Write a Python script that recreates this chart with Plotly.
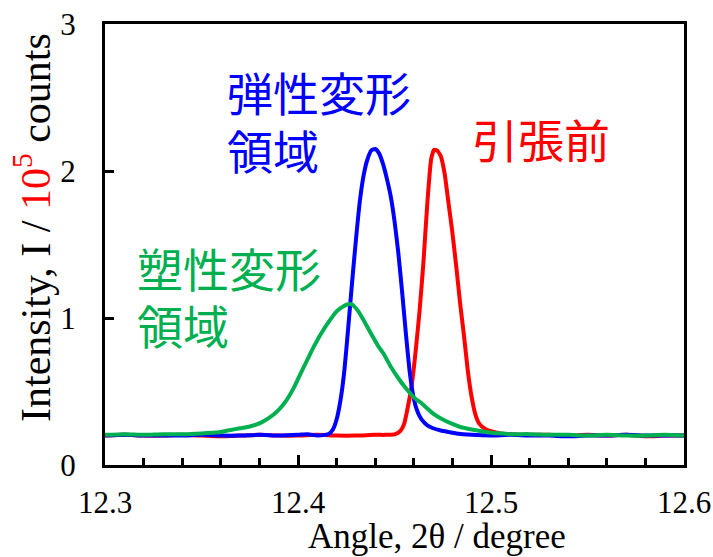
import plotly.graph_objects as go

# ---- data ----
red_x = [12.30, 12.31, 12.32, 12.33, 12.34, 12.35, 12.36, 12.37, 12.38, 12.39,
         12.40, 12.41, 12.42, 12.43, 12.44, 12.445, 12.450, 12.453, 12.455, 12.457,
         12.459, 12.461, 12.463, 12.465, 12.467, 12.469, 12.4705, 12.472, 12.474, 12.476,
         12.478, 12.480, 12.482, 12.484, 12.486, 12.488, 12.490, 12.492, 12.494, 12.497,
         12.500, 12.505, 12.51, 12.52, 12.53, 12.54, 12.55, 12.56, 12.57, 12.58, 12.59, 12.60]
red_y = [0.200, 0.205, 0.200, 0.200, 0.205, 0.200, 0.195, 0.200, 0.205, 0.200,
         0.200, 0.205, 0.200, 0.200, 0.205, 0.205, 0.208, 0.23, 0.28, 0.40,
         0.55, 0.78, 1.05, 1.38, 1.78, 2.08, 2.145, 2.14, 2.10, 1.98,
         1.78, 1.58, 1.35, 1.10, 0.88, 0.64, 0.46, 0.34, 0.28, 0.245,
         0.230, 0.215, 0.210, 0.205, 0.205, 0.200, 0.205, 0.200, 0.205, 0.195, 0.200, 0.200]

blue_x = [12.30, 12.31, 12.32, 12.33, 12.34, 12.35, 12.36, 12.37, 12.38, 12.39,
          12.40, 12.405, 12.410, 12.414, 12.416, 12.418, 12.420, 12.422, 12.424, 12.426,
          12.428, 12.430, 12.432, 12.434, 12.436, 12.438, 12.440, 12.442, 12.444, 12.446,
          12.448, 12.450, 12.452, 12.454, 12.456, 12.458, 12.460, 12.462, 12.464, 12.467,
          12.470, 12.474, 12.478, 12.482, 12.49, 12.50, 12.51, 12.52, 12.53, 12.54,
          12.55, 12.56, 12.57, 12.58, 12.59, 12.60]
blue_y = [0.200, 0.205, 0.200, 0.200, 0.200, 0.205, 0.200, 0.200, 0.205, 0.200,
          0.205, 0.210, 0.200, 0.205, 0.212, 0.24, 0.31, 0.44, 0.64, 0.93,
          1.24, 1.53, 1.79, 1.97, 2.08, 2.14, 2.15, 2.12, 2.05, 1.95,
          1.83, 1.66, 1.44, 1.17, 0.88, 0.62, 0.45, 0.36, 0.31, 0.27,
          0.25, 0.235, 0.225, 0.215, 0.205, 0.200, 0.205, 0.200, 0.200, 0.195,
          0.200, 0.200, 0.205, 0.200, 0.200, 0.200]

green_x = [12.30, 12.31, 12.32, 12.33, 12.34, 12.35, 12.356, 12.360, 12.365, 12.370,
           12.375, 12.380, 12.385, 12.390, 12.394, 12.398, 12.402, 12.405, 12.408, 12.412,
           12.416, 12.420, 12.424, 12.426, 12.428, 12.431, 12.434, 12.438, 12.442, 12.4442,
           12.448, 12.452, 12.4554, 12.460, 12.464, 12.470, 12.475, 12.480, 12.485, 12.4907,
           12.500, 12.505, 12.51, 12.52, 12.53, 12.54, 12.55, 12.56, 12.57, 12.58,
           12.59, 12.60]
green_y = [0.205, 0.210, 0.205, 0.210, 0.210, 0.215, 0.220, 0.225, 0.238, 0.250,
           0.262, 0.283, 0.320, 0.375, 0.440, 0.530, 0.640, 0.720, 0.800, 0.895,
           0.975, 1.045, 1.083, 1.094, 1.092, 1.050, 0.985, 0.890, 0.800, 0.760,
           0.670, 0.590, 0.530, 0.460, 0.420, 0.350, 0.310, 0.280, 0.255, 0.240,
           0.220, 0.215, 0.210, 0.210, 0.205, 0.205, 0.200, 0.205, 0.200, 0.200,
           0.205, 0.200]

x_ticks = [12.3, 12.4, 12.5, 12.6]
x_tick_labels = ["12.3", "12.4", "12.5", "12.6"]
y_ticks = [0, 1, 2, 3]
y_tick_labels = ["0", "1", "2", "3"]

RED = "#FF0000"
BLUE = "#0000FF"
GREEN = "#00B050"
SERIF = "Liberation Serif"
CJK = "Noto Sans CJK JP"

fig = go.Figure()
for xs, ys, c in [(red_x, red_y, RED), (blue_x, blue_y, BLUE), (green_x, green_y, GREEN)]:
    fig.add_trace(go.Scatter(x=xs, y=ys, mode="lines",
                             line=dict(color=c, width=4, shape="spline", smoothing=0.5),
                             showlegend=False, hoverinfo="skip"))

axis_common = dict(showgrid=False, zeroline=False, showline=True, linecolor="black",
                   linewidth=3, mirror=True, ticks="inside", tickcolor="black",
                   tickwidth=2.5, automargin=False,
                   tickfont=dict(family=SERIF, size=31, color="black"))

fig.update_xaxes(range=[12.3, 12.6], tickvals=x_ticks, ticktext=x_tick_labels, ticklen=10,
                 minor=dict(dtick=0.02, ticks="inside", ticklen=7, tickwidth=2.5, tickcolor="black", showgrid=False),
                 ticklabelstandoff=8, **axis_common)
fig.update_yaxes(range=[0, 3], tickvals=y_ticks, ticktext=y_tick_labels, ticklen=9,
                 ticklabelstandoff=20, **axis_common)

annotations = [
    dict(text="Angle, 2θ / degree", xref="paper", yref="paper", x=0.574, y=-0.162,
         xanchor="center", yanchor="middle", showarrow=False,
         font=dict(family=SERIF, size=35, color="black")),
    dict(text="Intensity, I / <span style='color:#FF0000'>10<sup>5</sup></span> counts",
         xref="paper", yref="paper", x=-0.1244, y=0.5397, xanchor="center", yanchor="middle",
         textangle=-90, showarrow=False, font=dict(family=SERIF, size=42, color="black")),
    dict(text="弾性変形", x=12.3622, y=2.545, xanchor="left", yanchor="middle",
         showarrow=False, font=dict(family=CJK, size=46, color=BLUE)),
    dict(text="領域", x=12.3622, y=2.15, xanchor="left", yanchor="middle",
         showarrow=False, font=dict(family=CJK, size=46, color=BLUE)),
    dict(text="引張前", x=12.4891, y=2.225, xanchor="left", yanchor="middle",
         showarrow=False, font=dict(family=CJK, size=46, color=RED)),
    dict(text="塑性変形", x=12.3155, y=1.35, xanchor="left", yanchor="middle",
         showarrow=False, font=dict(family=CJK, size=46, color=GREEN)),
    dict(text="領域", x=12.3155, y=0.96, xanchor="left", yanchor="middle",
         showarrow=False, font=dict(family=CJK, size=46, color=GREEN)),
]

fig.update_layout(width=713, height=557, margin=dict(l=105, r=29, t=24, b=92),
                  font=dict(family=SERIF, color="black"),
                  plot_bgcolor="white", paper_bgcolor="white", annotations=annotations)

fig.write_html("out.html")
